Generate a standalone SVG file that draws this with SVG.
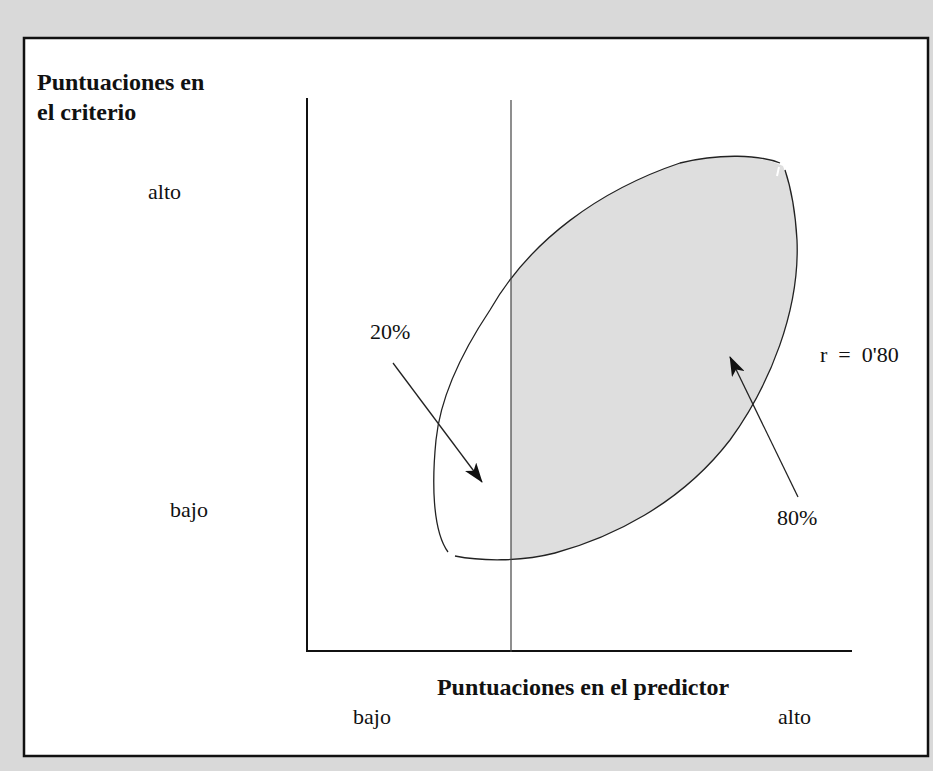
<svg xmlns="http://www.w3.org/2000/svg" width="933" height="771" viewBox="0 0 933 771">
<style>
.t{font-family:"Liberation Serif","Times New Roman",serif;font-size:22px;fill:#111}
.b{font-weight:bold;font-size:24px}
.ax{stroke:#111;stroke-width:2;fill:none}
.ol{stroke:#222;stroke-width:1.3;fill:none}
.ar{stroke:#222;stroke-width:1.3;fill:none}
</style>
<defs>
<marker id="ah" viewBox="0 0 20 14" refX="19" refY="7" markerWidth="20" markerHeight="14" markerUnits="userSpaceOnUse" orient="auto">
<path d="M0,0 L20,7 L0,14 L5,7 z" fill="#111"/>
</marker>
<clipPath id="right"><rect x="511" y="0" width="422" height="771"/></clipPath>
</defs>
<rect x="0" y="0" width="933" height="771" fill="#d9d9d9"/>
<rect x="24" y="38" width="904" height="718" fill="#fff" stroke="#111" stroke-width="2.5"/>
<g id="region">
<path clip-path="url(#right)" fill="#dedede" d="M455,556 C480,561 520,562 555,553 C610,538 680,505 730,440 C770,385 800,310 797,240 C795,205 790,185 783,166 C760,155 720,153 680,163 C600,190 530,240 490,310 C460,355 440,400 436,440 C432,480 432,530 450,554 Z"/>
<path class="ol" d="M455,556 C480,561 520,562 555,553 C610,538 680,505 730,440 C770,385 800,310 797,240 C795,205 790,185 785,170"/>
<path class="ol" d="M780,163 C760,155 720,153 680,163 C600,190 530,240 490,310 C460,355 440,400 436,440 C432,480 432,530 448,552"/>
<line x1="779" y1="167" x2="777" y2="176" stroke="#fff" stroke-width="2"/>
</g>
<g id="axes">
<line class="ax" x1="307" y1="98" x2="307" y2="652"/>
<line class="ax" x1="306" y1="651" x2="852" y2="651"/>
<line x1="511" y1="100" x2="511" y2="652" stroke="#444" stroke-width="1.2"/>
</g>
<g id="connectors">
<line class="ar" x1="393" y1="363" x2="482" y2="482" marker-end="url(#ah)"/>
<line class="ar" x1="798" y1="497" x2="730" y2="357" marker-end="url(#ah)"/>
</g>
<g id="labels">
<text class="t b" x="37" y="90">Puntuaciones en</text>
<text class="t b" x="37" y="120">el criterio</text>
<text class="t" x="148" y="199">alto</text>
<text class="t" x="170" y="517">bajo</text>
<text class="t" x="370" y="339">20%</text>
<text class="t" x="820" y="362" xml:space="preserve">r  =  0'80</text>
<text class="t" x="777" y="525">80%</text>
<text class="t b" x="583" y="695" text-anchor="middle">Puntuaciones en el predictor</text>
<text class="t" x="353" y="724">bajo</text>
<text class="t" x="778" y="724">alto</text>
</g>
</svg>
